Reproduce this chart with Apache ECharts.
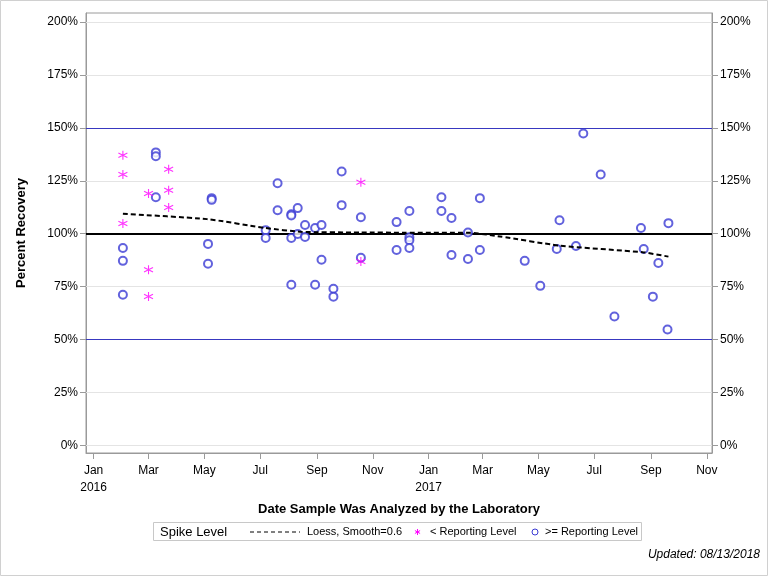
<!DOCTYPE html>
<html>
<head>
<meta charset="utf-8">
<script src="https://cdn.jsdelivr.net/npm/echarts@6/dist/echarts.min.js"></script>
<style>
html,body{margin:0;padding:0;background:#fff;}
#chart{width:768px;height:576px;}
</style>
</head>
<body>
<div id="chart"></div>
<script>
// ---- data ----
const tickDates = ['2016-01-01','2016-03-01','2016-05-01','2016-07-01','2016-09-01','2016-11-01',
                   '2017-01-01','2017-03-01','2017-05-01','2017-07-01','2017-09-01','2017-11-01'];
const tickLabels = ['Jan\n2016','Mar','May','Jul','Sep','Nov','Jan\n2017','Mar','May','Jul','Sep','Nov'];
const yTicks = [0,25,50,75,100,125,150,175,200];

const belowDates = ['2016-02-02','2016-02-02','2016-02-02','2016-03-01','2016-03-01','2016-03-01',
                    '2016-03-23','2016-03-23','2016-03-23','2016-10-19','2016-10-19'];
const belowValues = [137,128,104.8,119,83,70.4,130.4,120.5,112.4,124.3,86.9];

const aboveDates = ['2016-02-02','2016-02-02','2016-02-02',
  '2016-03-09','2016-03-09','2016-03-09',
  '2016-05-05','2016-05-05','2016-05-09','2016-05-09',
  '2016-07-07','2016-07-07','2016-07-20','2016-07-20',
  '2016-08-04','2016-08-04','2016-08-04','2016-08-04',
  '2016-08-11','2016-08-11','2016-08-19','2016-08-19',
  '2016-08-30','2016-08-30','2016-09-06','2016-09-06',
  '2016-09-19','2016-09-19','2016-09-28','2016-09-28',
  '2016-10-19','2016-10-19',
  '2016-11-27','2016-11-27',
  '2016-12-11','2016-12-11','2016-12-11','2016-12-11',
  '2017-01-15','2017-01-15','2017-01-26','2017-01-26',
  '2017-02-13','2017-02-13','2017-02-26','2017-02-26',
  '2017-04-16','2017-05-03','2017-05-21','2017-05-24',
  '2017-06-11','2017-06-19','2017-07-08','2017-07-23',
  '2017-08-21','2017-08-24','2017-09-03','2017-09-09',
  '2017-09-19','2017-09-20'];
const aboveValues = [93.3,87.2,71.2,
  138.4,136.6,117.2,
  95.2,85.8,116.8,116,
  101.7,98,123.8,111.1,
  109.2,108.6,98,75.9,
  112.1,99.9,104.1,98.5,
  102.7,75.9,104.1,87.7,
  74,70.3,129.4,113.5,
  107.8,88.7,
  105.5,92.3,
  110.7,98.3,96.9,93.3,
  117.2,110.7,107.4,90,
  100.6,88.1,116.8,92.3,
  87.2,75.4,92.8,106.4,
  94.2,147.3,128,60.9,
  102.7,92.8,70.3,86.2,
  54.8,105];

const loessDates = ['2016-02-02','2016-05-04','2016-07-07','2016-08-15','2016-10-18','2016-12-05','2017-02-13','2017-03-20','2017-05-24','2017-08-24','2017-09-20'];
const loessValues = [109.4,106.9,102.7,100.9,100.6,100.5,100.5,98.7,94.4,91.2,89.2];

const refLines = [50,100,150];

// ---- helpers ----
const DAY = 86400000;
const t = s => Date.parse(s);
const tickMs = tickDates.map(t);
const labelMap = {};
tickMs.forEach((v,i)=>{labelMap[v]=tickLabels[i];});
const xMin = t('2016-01-01') - 8.3*DAY;
const xMax = t('2016-01-01') + 675.6*DAY;

const FONT = '"Liberation Sans", Arial, sans-serif';
const asterisk = 'path://M5,0L5,10M0.67,2.5L9.33,7.5M0.67,7.5L9.33,2.5';
const BLUE = '#3b3bd4';
const MAG = '#ff00ff';

const chart = echarts.init(document.getElementById('chart'), null, {renderer:'canvas'});
chart.setOption({
  animation:false,
  backgroundColor:'#fff',
  grid:{left:86,right:56,top:13,bottom:123,show:true,borderColor:'#9a9a9a',borderWidth:1,containLabel:false},
  xAxis:{
    type:'value', min:xMin, max:xMax,
    name:'Date Sample Was Analyzed by the Laboratory',
    nameLocation:'middle', nameGap:50,
    nameTextStyle:{fontFamily:FONT,fontWeight:'bold',fontSize:13,color:'#000'},
    axisLine:{show:true,onZero:false,lineStyle:{color:'#9a9a9a'}},
    axisTick:{show:true,customValues:tickMs,length:6,lineStyle:{color:'#9a9a9a'}},
    axisLabel:{customValues:tickMs,formatter:v=>labelMap[v]||'',fontFamily:FONT,fontSize:12,color:'#000',margin:9,lineHeight:17},
    splitLine:{show:false}
  },
  yAxis:[{
    type:'value', min:-3.5, max:204.2,
    name:'Percent Recovery', nameLocation:'middle', nameGap:58,
    nameTextStyle:{fontFamily:FONT,fontWeight:'bold',fontSize:13,color:'#000'},
    axisLine:{show:true,lineStyle:{color:'#9a9a9a'}},
    axisTick:{show:true,customValues:yTicks,length:6,lineStyle:{color:'#9a9a9a'}},
    axisLabel:{customValues:yTicks,formatter:v=>v+'%',fontFamily:FONT,fontSize:12,color:'#000',margin:8},
    splitLine:{show:false}
  },{
    type:'value', min:-3.5, max:204.2, position:'right',
    axisLine:{show:true,lineStyle:{color:'#9a9a9a'}},
    axisTick:{show:true,customValues:yTicks,length:6,lineStyle:{color:'#9a9a9a'}},
    axisLabel:{customValues:yTicks,formatter:v=>v+'%',fontFamily:FONT,fontSize:12,color:'#000',margin:8},
    splitLine:{show:false}
  }],
  series:[
    {
      type:'line', name:'grid', data:[], silent:true,
      markLine:{silent:true,symbol:'none',label:{show:false},
        lineStyle:{color:'#e4e4e4',width:1,type:'solid'},
        data:yTicks.filter(v=>refLines.indexOf(v)<0).map(v=>({yAxis:v}))}
    },
    {
      type:'line', name:'ref', data:[], silent:true, z:3,
      markLine:{silent:true,symbol:'none',label:{show:false},
        data:refLines.map(v=>({yAxis:v,lineStyle:{color:v===100?'#000':'#3838c0',width:v===100?2:1,type:'solid'}}))}
    },
    {
      type:'scatter', name:'>= Reporting Level', z:5,
      symbol:'emptyCircle', symbolSize:8,
      itemStyle:{color:BLUE,borderColor:BLUE,borderWidth:1},
      data:aboveDates.map((d,i)=>[t(d),aboveValues[i]])
    },
    {
      type:'scatter', name:'< Reporting Level', z:5,
      symbol:asterisk, symbolSize:9,
      itemStyle:{color:'none',borderColor:MAG,borderWidth:1.1},
      data:belowDates.map((d,i)=>[t(d),belowValues[i]])
    },
    {
      type:'line', name:'Loess, Smooth=0.6', z:6, showSymbol:false, smooth:0.2,
      lineStyle:{color:'#000',width:2,type:[5,3]},
      data:loessDates.map((d,i)=>[t(d),loessValues[i]])
    }
  ],
  graphic:[
    {type:'rect',shape:{x:0.5,y:0.5,width:767,height:575},style:{fill:'none',stroke:'#d0d0d0',lineWidth:1},silent:true},
    {type:'rect',shape:{x:153.5,y:522.5,width:488,height:18},style:{fill:'#fff',stroke:'#c8c8c8',lineWidth:1},silent:true},
    {type:'text',x:160,y:532,style:{text:'Spike Level',font:'13px '+FONT,fill:'#000',verticalAlign:'middle'}},
    {type:'line',shape:{x1:250,y1:532,x2:300,y2:532},style:{stroke:'#000',lineWidth:1,lineDash:[4,3]}},
    {type:'text',x:307,y:532,style:{text:'Loess, Smooth=0.6',font:'11px '+FONT,fill:'#000',verticalAlign:'middle'}},
    {type:'line',shape:{x1:417.5,y1:529,x2:417.5,y2:535},style:{stroke:MAG,lineWidth:1}},
    {type:'line',shape:{x1:414.9,y1:530.5,x2:420.1,y2:533.5},style:{stroke:MAG,lineWidth:1}},
    {type:'line',shape:{x1:414.9,y1:533.5,x2:420.1,y2:530.5},style:{stroke:MAG,lineWidth:1}},
    {type:'text',x:430,y:532,style:{text:'< Reporting Level',font:'11px '+FONT,fill:'#000',verticalAlign:'middle'}},
    {type:'circle',shape:{cx:535,cy:532,r:3},style:{stroke:BLUE,fill:'none',lineWidth:1}},
    {type:'text',x:545,y:532,style:{text:'>= Reporting Level',font:'11px '+FONT,fill:'#000',verticalAlign:'middle'}},
    {type:'text',right:8,top:549,style:{text:'Updated: 08/13/2018',font:'italic 12px '+FONT,fill:'#000'}}
  ]
});
</script>
</body>
</html>
